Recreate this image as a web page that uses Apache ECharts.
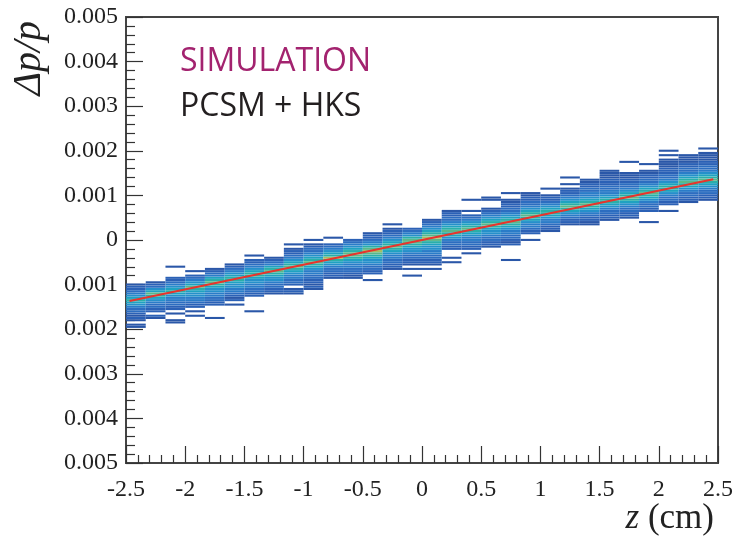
<!DOCTYPE html>
<html>
<head>
<meta charset="utf-8">
<script src="https://cdn.jsdelivr.net/npm/echarts@6/dist/echarts.min.js"></script>
<style>
  html, body { margin: 0; padding: 0; background: #fff; }
  #main { width: 736px; height: 538px; }
</style>
</head>
<body>
<div id="main"></div>
<script>
// binning of the 2D histogram
const zMin = -2.5
const zBinWidth = 1 / 6        // 30 columns over -2.5 .. 2.5 cm
const dpBinWidth = 0.00005     // dp/p bin

// lowest filled dp/p bin of every z column (units of dpBinWidth)
const colLow = [-39, -35, -37, -34, -35, -29, -32, -24, -24, -22,
  -17, -17, -18, -13, -16, -13, -10, -6, -3, -9,
  0, 4, 7, 7, 9, 10, 8, 13, 17, 18]

// occupancy level per bin, from colLow upwards (0 = empty, 9 = densest)
const colLevels = [
  '11012123345676543221',
  '12022334567865321',
  '11001022334456765432200001',
  '101022344556786543201',
  '10000022334455678764321',
  '1021234455677654321',
  '10000002233445567765432201',
  '12233455678764321',
  '12102334456787654322101',
  '12122334456787654332101',
  '1223345679765432001',
  '112334456788765432',
  '1002233455678987543221',
  '122334456787654322101',
  '1001012233455678875432',
  '10122334455678987654321',
  '101000223345678765433221',
  '1022334456787654320100001',
  '12233455678765432100011',
  '1000000212334456787654332211001',
  '1002234456787654332211',
  '12234456776543221001',
  '1223456787654322101001',
  '112234567876544332211',
  '12233456776544332221111',
  '12233456787654332211100001',
  '100002233456787654332211001',
  '1002233456776543322211110101',
  '1223345678765433221111',
  '122334567876543322111101'
]

// linear fit drawn over the histogram
const fitZ = [-2.47, 2.46]
const fitDp = [-0.00137, 0.00136]

const cells = []
colLevels.forEach((s, i) => {
  const zc = zMin + (i + 0.5) * zBinWidth
  for (let j = 0; j < s.length; j++) {
    const lv = +s[j]
    if (lv > 0) cells.push([zc, (colLow[i] + j) * dpBinWidth, lv])
  }
})

function renderCell(params, api) {
  const z = api.value(0), dp = api.value(1)
  const p0 = api.coord([z - zBinWidth / 2, dp + dpBinWidth / 2])
  const p1 = api.coord([z + zBinWidth / 2, dp - dpBinWidth / 2])
  return {
    type: 'rect',
    shape: { x: p0[0], y: p0[1], width: p1[0] - p0[0], height: p1[1] - p0[1] - 0.15 },
    style: { fill: api.visual('color') }
  }
}

const serif = '"Liberation Serif", "DejaVu Serif", serif'
const tickStyle = { color: '#333', width: 1.2 }
const labelStyle = { fontFamily: serif, fontSize: 24, color: '#222' }

const chart = echarts.init(document.getElementById('main'), null, { renderer: 'canvas' })
chart.setOption({
  animation: false,
  grid: {
    left: 126, right: 17, top: 17, bottom: 75,
    show: true, borderColor: '#444', borderWidth: 2, backgroundColor: 'transparent'
  },
  visualMap: {
    show: false,
    type: 'continuous',
    seriesIndex: 0,
    dimension: 2,
    min: 1,
    max: 9,
    inRange: {
      color: ['#2a57a8', '#2b61b6', '#2c6dc0', '#2a7cc8', '#2590ca', '#1fa2c0', '#2aafa8', '#5bb78a', '#a5bd62']
    }
  },
  xAxis: {
    type: 'value',
    min: -2.5,
    max: 2.5,
    interval: 0.5,
    axisLine: { show: false, onZero: false },
    axisTick: { inside: true, length: 17, lineStyle: tickStyle },
    minorTick: { show: true, splitNumber: 5, length: 8, lineStyle: tickStyle },
    splitLine: { show: false },
    axisLabel: Object.assign({ margin: 15, showMinLabel: true, showMaxLabel: true }, labelStyle)
  },
  yAxis: {
    type: 'value',
    min: -0.005,
    max: 0.005,
    interval: 0.001,
    axisLine: { show: false, onZero: false },
    axisTick: { inside: true, length: 17, lineStyle: tickStyle },
    minorTick: { show: true, splitNumber: 5, length: 9, lineStyle: tickStyle },
    splitLine: { show: false },
    axisLabel: Object.assign({
      margin: 8,
      showMinLabel: true,
      showMaxLabel: true,
      formatter: v => Math.abs(v) < 1e-9 ? '0' : Math.abs(v).toFixed(3)
    }, labelStyle)
  },
  series: [
    {
      type: 'custom',
      renderItem: renderCell,
      encode: { x: 0, y: 1 },
      clip: true,
      data: cells
    },
    {
      type: 'line',
      data: fitZ.map((z, i) => [z, fitDp[i]]),
      symbol: 'none',
      lineStyle: { color: '#e8342c', width: 2 },
      z: 5
    }
  ],
  graphic: [
    {
      type: 'text', left: 180, top: 46,
      style: { text: 'SIMULATION', font: '32px "Open Sans"', fill: '#a3236f' }
    },
    {
      type: 'text', left: 180, top: 91,
      style: { text: 'PCSM + HKS', font: '32px "Open Sans"', fill: '#231f20' }
    },
    {
      type: 'text', x: 29, y: 21, rotation: Math.PI / 2,
      style: {
        text: 'Δp/p', font: 'italic 40px ' + serif, fill: '#222',
        align: 'right', verticalAlign: 'middle'
      }
    },
    {
      type: 'text', right: 22, top: 501,
      style: {
        text: '{i|z} (cm)', font: '35px ' + serif, fill: '#222',
        rich: { i: { fontStyle: 'italic', fontSize: 35, fontFamily: serif } }
      }
    }
  ]
})
</script>
</body>
</html>
